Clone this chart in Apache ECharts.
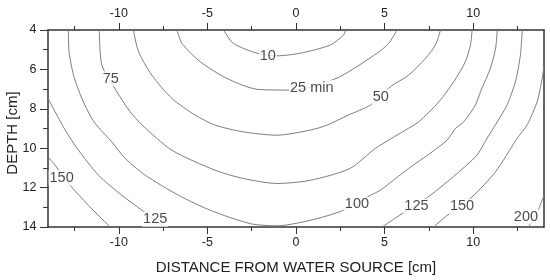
<!DOCTYPE html>
<html>
<head>
<meta charset="utf-8">
<script src="https://cdn.jsdelivr.net/npm/echarts@6/dist/echarts.min.js"></script>
<style>
html,body{margin:0;padding:0;background:#fff;}
#chart{width:550px;height:280px;}
</style>
</head>
<body>
<div id="chart"></div>
<script>
// ---- data (x: distance [cm], y: depth [cm]) ----
const xMajorTicks = [-10, -5, 0, 5, 10];
const xMinorTicks = [-12.5, -7.5, -2.5, 2.5, 7.5, 12.5];

const contour10 = [[-4.09,4.0],[-3.53,4.68],[-2.20,5.18],[-1.07,5.31],[0.24,5.18],[1.94,4.76],[2.69,4.25],[2.79,4.0]];
const contour25 = [[-6.72,4.0],[-6.44,4.68],[-5.41,5.61],[-3.90,6.46],[-2.20,7.01],[-0.51,7.05],[0.81,6.90],[2.50,6.36],[4.59,5.17],[5.23,4.68],[5.71,4.0]];
const contour50 = [[-9.18,4.0],[-8.89,5.10],[-8.14,6.29],[-7.01,7.47],[-5.69,8.32],[-4.56,8.83],[-2.98,9.17],[-1.07,9.34],[0.81,9.08],[1.75,8.83],[2.95,8.32],[4.20,7.81],[5.33,6.88],[6.36,6.29],[7.31,5.44],[7.87,4.76],[8.16,4.0]];
const contour75 = [[-11.10,4.0],[-10.96,5.78],[-10.11,7.14],[-9.36,8.15],[-8.68,8.83],[-7.01,10.10],[-4.56,11.12],[-2.96,11.54],[-1.07,11.79],[0.81,11.63],[3.07,11.02],[4.48,10.01],[6.18,9.08],[6.93,8.66],[8.06,7.65],[8.90,6.63],[9.56,5.61],[9.85,4.76],[9.94,4.0]];
const contour100 = [[-12.85,4.0],[-12.81,5.10],[-12.56,6.29],[-12.09,7.47],[-11.53,8.49],[-11.17,8.93],[-10.40,9.68],[-9.64,10.52],[-8.51,11.37],[-6.63,12.39],[-4.84,13.15],[-2.58,13.83],[-1.07,13.94],[0.81,13.66],[2.69,13.15],[4.20,12.39],[4.76,12.13],[6.36,11.03],[7.68,10.19],[8.53,9.59],[9.00,9.00],[9.47,8.66],[10.13,7.81],[10.42,7.12],[10.98,5.93],[11.27,4.92],[11.36,4.0]];
const contour125 = [[-14,7.47],[-13.03,9.08],[-12.28,10.10],[-11.15,11.37],[-9.83,12.39],[-8.70,13.15],[-7.44,14.0],null,[4.86,14.0],[5.99,13.32],[7.59,12.39],[10.13,10.44],[10.79,9.49],[11.26,8.81],[11.92,7.80],[12.39,6.61],[12.67,5.26],[12.77,4.0]];
const contour150 = [[-14,10.44],[-13.60,10.86],[-12.75,11.88],[-11.72,12.90],[-10.49,14.0],null,[7.77,14.0],[8.53,13.41],[9.94,12.47],[11.26,11.20],[12.49,9.49],[13.05,8.81],[13.62,7.62],[13.90,6.44],[14,5.83]];
const contour200 = [[13.12,14.0],[13.62,13.24],[14,12.39]];

const contourLabelText = ['10', '25 min', '50', '75', '100', '125', '125', '150', '150', '200'];
const contourLabelX = [-1.59, 0.89, 4.79, -10.46, 3.44, -7.95, 6.80, -13.23, 9.37, 12.98];
const contourLabelY = [5.32, 6.92, 7.38, 6.47, 12.85, 13.61, 12.95, 11.50, 12.95, 13.48];

// ---- chart ----
const FONT = '"Liberation Sans", Arial, sans-serif';
const AX = '#333333';
const LINE = '#7c7c7c';
const chart = echarts.init(document.getElementById('chart'), null, {renderer: 'canvas'});

const contours = [contour10, contour25, contour50, contour75, contour100, contour125, contour150, contour200];
const series = contours.map(c => ({
  type: 'line',
  data: c.map(p => p === null ? '-' : p),
  showSymbol: false,
  symbol: 'none',
  smooth: 0.25,
  connectNulls: false,
  lineStyle: {color: LINE, width: 1},
  silent: true,
  z: 2
}));
series.push({
  type: 'scatter',
  data: contourLabelText.map((t, i) => [contourLabelX[i], contourLabelY[i], t]),
  symbolSize: 0,
  silent: true,
  z: 5,
  label: {
    show: true,
    position: 'inside',
    formatter: p => p.value[2],
    color: '#1a1a1a',
    fontFamily: FONT,
    fontSize: 14.5,
    backgroundColor: '#ffffff',
    padding: [0, 1, 0, 1]
  }
});

const baseX = {
  type: 'value', min: -14, max: 14, splitLine: {show: false}
};

chart.setOption({
  animation: false,
  backgroundColor: '#ffffff',
  grid: {left: 48, right: 6, top: 30, bottom: 53, containLabel: false},
  xAxis: [
    Object.assign({}, baseX, {
      position: 'bottom',
      axisLine: {show: true, onZero: false, lineStyle: {color: AX, width: 1.5}},
      axisTick: {show: true, customValues: xMajorTicks, length: 7, lineStyle: {color: AX, width: 1}},
      axisLabel: {show: true, customValues: xMajorTicks, margin: 9, color: '#222', fontFamily: FONT, fontSize: 12.5},
      name: 'DISTANCE FROM WATER SOURCE [cm]',
      nameLocation: 'middle',
      nameGap: 33,
      nameTextStyle: {color: '#222', fontFamily: FONT, fontSize: 15}
    }),
    Object.assign({}, baseX, {
      position: 'top',
      axisLine: {show: true, onZero: false, lineStyle: {color: AX, width: 1.5}},
      axisTick: {show: true, customValues: xMajorTicks, length: 7, lineStyle: {color: AX, width: 1}},
      axisLabel: {show: true, customValues: xMajorTicks, margin: 10, color: '#222', fontFamily: FONT, fontSize: 12.5}
    }),
    Object.assign({}, baseX, {
      position: 'bottom',
      axisLine: {show: false, onZero: false},
      axisTick: {show: true, customValues: xMinorTicks, length: 4, lineStyle: {color: AX, width: 1}},
      axisLabel: {show: false}
    }),
    Object.assign({}, baseX, {
      position: 'top',
      axisLine: {show: false, onZero: false},
      axisTick: {show: true, customValues: xMinorTicks, length: 4, lineStyle: {color: AX, width: 1}},
      axisLabel: {show: false}
    })
  ],
  yAxis: [
    {
      type: 'value', min: 4, max: 14, interval: 2, inverse: true, position: 'left',
      splitLine: {show: false},
      axisLine: {show: true, onZero: false, lineStyle: {color: AX, width: 1.5}},
      axisTick: {show: true, length: 8, lineStyle: {color: AX, width: 1}},
      minorTick: {show: true, splitNumber: 2, length: 5, lineStyle: {color: AX, width: 1}},
      axisLabel: {margin: 11.5, color: '#222', fontFamily: FONT, fontSize: 12.5}
    },
    {
      type: 'value', min: 4, max: 14, inverse: true, position: 'right',
      splitLine: {show: false},
      axisLine: {show: true, onZero: false, lineStyle: {color: AX, width: 1.5}},
      axisTick: {show: false},
      axisLabel: {show: false}
    }
  ],
  graphic: [{
    type: 'text',
    x: 12.5, y: 133,
    rotation: Math.PI / 2,
    style: {
      text: 'DEPTH [cm]',
      fill: '#222',
      font: '15px "Liberation Sans", Arial, sans-serif',
      textAlign: 'center',
      textVerticalAlign: 'middle'
    }
  }],
  series: series
});
</script>
</body>
</html>
